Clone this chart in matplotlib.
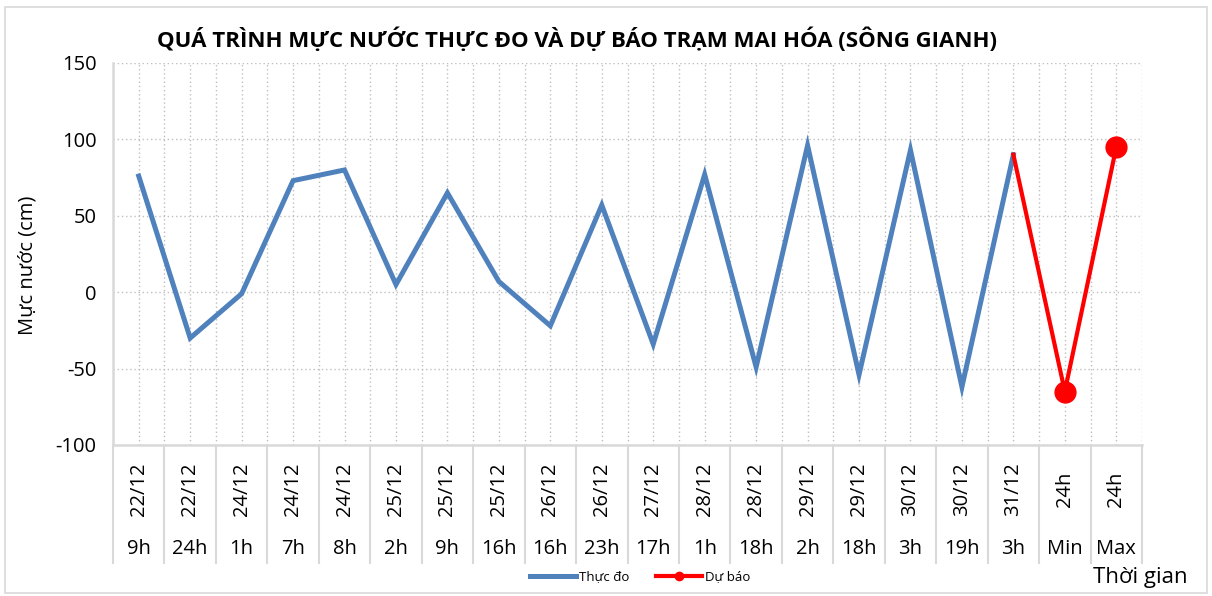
import matplotlib
matplotlib.use('Agg')
import matplotlib.pyplot as plt
import matplotlib.transforms as mtransforms
from matplotlib.lines import Line2D
from matplotlib.patches import Rectangle
import numpy as np

plt.rcParams['font.family'] = ['Open Sans', 'DejaVu Sans']
plt.rcParams['axes.unicode_minus'] = False

dates = ['22/12', '22/12', '24/12', '24/12', '24/12', '25/12', '25/12', '25/12',
         '26/12', '26/12', '27/12', '28/12', '28/12', '29/12', '29/12', '30/12',
         '30/12', '31/12', '24h', '24h']
hours = ['9h', '24h', '1h', '7h', '8h', '2h', '9h', '16h', '16h', '23h', '17h',
         '1h', '18h', '2h', '18h', '3h', '19h', '3h', 'Min', 'Max']
observed = [76, -30, -1, 73, 80, 5, 65, 7, -22, 57, -34, 77, -49, 96, -54, 93, -62, 90]
forecast = [90, -65, 95]   # starts at last observed point (31/12 3h)

blue = '#4F81BD'
red = '#FF0000'
grid_c = '#BFBFBF'
axis_c = '#D9D9D9'

fig = plt.figure(figsize=(12.12, 5.96), dpi=100)
ax = fig.add_axes([113/1212, 1-445/596, (1142-113)/1212, (445-63)/596])

n = len(dates)
x_obs = np.arange(len(observed))
x_fc = np.arange(len(observed) - 1, len(observed) - 1 + len(forecast))

ax.plot(x_obs, observed, color=blue, lw=3.6, solid_joinstyle='miter', zorder=3)
ax.plot(x_fc, forecast, color=red, lw=3.0, marker='o', markersize=15,
        markevery=[1, 2], zorder=4)

ax.set_xlim(-0.5, n - 0.5)
ax.set_ylim(-100, 150)
ax.set_yticks([-100, -50, 0, 50, 100, 150])
ax.set_xticks(np.arange(n))
ax.set_xticks(np.arange(n + 1) - 0.5, minor=True)
ax.tick_params(axis='x', which='both', length=0, labelbottom=False)
ax.tick_params(axis='y', length=0, labelsize=14.5, pad=12)

ax.grid(True, which='major', color=grid_c, ls=(0, (1, 2)), lw=1)
ax.grid(True, which='minor', axis='x', color=grid_c, ls=(0, (1, 2)), lw=1)
ax.set_axisbelow(True)

for s in ['top', 'right']:
    ax.spines[s].set_visible(False)
for s in ['left', 'bottom']:
    ax.spines[s].set_color(axis_c)
    ax.spines[s].set_linewidth(1.8)

# multi-level category labels
trans = mtransforms.blended_transform_factory(ax.transData, ax.transAxes)
h = 445 - 63
for i in range(n):
    ax.text(i, -(489 - 445) / h, dates[i], transform=trans, rotation=90,
            ha='center', va='center', fontsize=14.5)
    ax.text(i, -(549 - 445) / h, hours[i], transform=trans,
            ha='center', va='center', fontsize=14.5)
for b in np.arange(n + 1) - 0.5:
    ax.plot([b, b], [0, -(563 - 445) / h], transform=trans, color=axis_c,
            lw=1.5, clip_on=False)

ax.set_ylabel('Mực nước (cm)', fontsize=14.5)
ax.yaxis.set_label_coords(-(113 - 37) / 1029, 0.47)

fig.text(577/1212, 1-40/596, 'QUÁ TRÌNH MỰC NƯỚC THỰC ĐO VÀ DỰ BÁO TRẠM MAI HÓA (SÔNG GIANH)',
         ha='center', va='center', fontsize=16, fontweight='bold')
fig.text(1140/1212, 1-578/596, 'Thời gian', ha='center', va='center', fontsize=16)

handles = [Line2D([], [], color=blue, lw=3.6),
           Line2D([], [], color=red, lw=3.0, marker='o', markersize=6)]
fig.legend(handles, ['Thực đo', 'Dự báo'], loc='center', bbox_to_anchor=(640/1212, 1-577/596),
           ncol=2, frameon=False, fontsize=9.5, handlelength=3.5, columnspacing=2.0,
           handletextpad=0.2)

fig.patches.append(Rectangle((5/1212, 3/596), 1202/1212, 586/596, transform=fig.transFigure,
                             fill=False, edgecolor=axis_c, lw=1.2))

fig.savefig('out.png', dpi=100)
